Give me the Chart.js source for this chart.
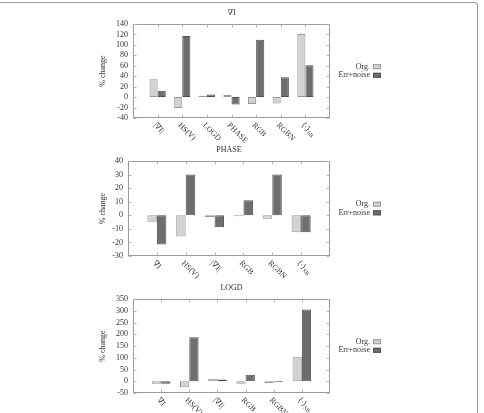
<!DOCTYPE html>
<html>
<head>
<meta charset="utf-8">
<script src="https://cdn.jsdelivr.net/npm/chart.js@4.4.1/dist/chart.umd.min.js"></script>
<style>
  html, body { margin: 0; padding: 0; background: #fff; }
  #wrap { position: relative; width: 484px; height: 413px; overflow: hidden; }
  #frame { position: absolute; left: -4px; top: 2px; width: 482px; height: 440px; box-sizing: border-box;
           border-top: 1px solid #9a9a9a; border-right: 1px solid #9a9a9a; border-top-right-radius: 4px; }
  .box { position: absolute; left: 94px; width: 300px; height: 150px; }
</style>
</head>
<body>
<div id="wrap">
  <div id="frame"></div>
  <div class="box" style="top:0"><canvas id="c-grad"></canvas></div>
  <div class="box" style="top:138px"><canvas id="c-phase"></canvas></div>
  <div class="box" style="top:276px"><canvas id="c-logd"></canvas></div>
</div>
<script>
// --- datos ---
const SERIES = ['Org.', 'Err+noise'];

const gradCats = ['|∇I|', 'HS(V)', 'LOGD', 'PHASE', 'RGB', 'RGBN', '⟨·⟩_SB'];
const gradOrg  = [34, -21, 2, 4, -13, -12, 121];
const gradErr  = [12, 117, 5, -14, 110, 38, 61];
const gradY    = [-40, 140, 20];   // min, max, paso

const phaseCats = ['∇I', 'HS(V)', '|∇I|', 'RGB', 'RGBN', '⟨·⟩_SB'];
const phaseOrg  = [-4.7, -15.7, -1.5, -0.7, -2.5, -12.5];
const phaseErr  = [-21.5, 30, -8.9, 11, 30, -12.5];
const phaseY    = [-30, 40, 10];

const logdCats = ['∇I', 'HS(V)', '|∇I|', 'RGB', 'RGBN', '⟨·⟩_SB'];
const logdOrg  = [-11, -26, 11, -11, -7, 104];
const logdErr  = [-11, 187, 7, 28, -4, 305];
const logdY    = [-50, 350, 50];

const FONT = '"Liberation Serif", "DejaVu Serif", serif';
const INK = '#333';
const COLORS = [
  { fill: '#d2d2d2', line: '#999999' },
  { fill: '#6e6e6e', line: '#505050' }
];

Chart.defaults.font.family = FONT;
Chart.defaults.font.size = 8;
Chart.defaults.color = INK;

// marco, marcas interiores, título, etiquetas rotadas y leyenda
const decor = {
  id: 'decor',
  afterDatasetsDraw(chart, args, opts) {
    const { ctx, chartArea: a, scales: { x, y } } = chart;
    const l = Math.round(a.left) + 0.5, r = Math.round(a.right) - 0.5;
    const t = Math.round(a.top) + 0.5,  b = Math.round(a.bottom) - 0.5;
    ctx.save();
    ctx.strokeStyle = '#9a9a9a';
    ctx.lineWidth = 1;
    ctx.strokeRect(l, t, r - l, b - t);

    ctx.strokeStyle = '#b5b5b5';
    ctx.beginPath();
    y.ticks.forEach(tk => {
      const py = Math.round(y.getPixelForValue(tk.value)) + 0.5;
      ctx.moveTo(l, py); ctx.lineTo(l + 3, py);
      ctx.moveTo(r, py); ctx.lineTo(r - 3, py);
    });
    opts.cats.forEach((c, i) => {
      const px = Math.round(x.getPixelForValue(i)) + 0.5;
      ctx.moveTo(px, b); ctx.lineTo(px, b - 3);
      ctx.moveTo(px, t); ctx.lineTo(px, t + 3);
    });
    ctx.stroke();

    ctx.fillStyle = INK;
    ctx.font = '8px ' + FONT;
    ctx.textAlign = 'center';
    ctx.textBaseline = 'middle';
    ctx.fillText(opts.title, (a.left + a.right) / 2, a.top - 11);

    // etiquetas del eje x, giradas 45° hacia abajo a la derecha
    opts.cats.forEach((c, i) => {
      const [main, sub] = c.split('_');
      const px = x.getPixelForValue(i);
      ctx.save();
      ctx.translate(px - 3, a.bottom + 6);
      ctx.rotate(Math.PI / 4);
      ctx.textAlign = 'left';
      ctx.font = '8px ' + FONT;
      ctx.fillText(main, 0, 0);
      if (sub) {
        const w = ctx.measureText(main).width;
        ctx.font = '5.5px ' + FONT;
        ctx.fillText(sub, w + 0.5, 2);
      }
      ctx.restore();
    });

    // leyenda
    const mid = (a.top + a.bottom) / 2;
    ctx.textAlign = 'right';
    ctx.font = '8px ' + FONT;
    chart.data.datasets.forEach((ds, i) => {
      const yy = mid + (i - 0.5) * 8.6;
      ctx.fillStyle = INK;
      ctx.fillText(ds.label, a.right + 40, yy);
      ctx.fillStyle = ds.backgroundColor;
      ctx.fillRect(a.right + 43, yy - 2.5, 8, 5);
      ctx.strokeStyle = ds.borderColor;
      ctx.strokeRect(a.right + 43.5, yy - 2, 7, 4);
    });
    ctx.restore();
  }
};

function makeChart(id, title, cats, org, err, yr, yWidth, padTop, padBottom) {
  const datasets = [org, err].map((vals, k) => ({
    label: SERIES[k],
    data: vals.map((v, i) => ({ x: i, y: v })),
    backgroundColor: COLORS[k].fill,
    borderColor: COLORS[k].line,
    borderWidth: 1,
    borderSkipped: false,
    barPercentage: 1,
    categoryPercentage: 0.66
  }));

  return new Chart(document.getElementById(id), {
    type: 'bar',
    data: { datasets },
    plugins: [decor],
    options: {
      responsive: true, maintainAspectRatio: false,
      animation: false,
      layout: { padding: { top: padTop, bottom: padBottom, right: 64, left: 0 } },
      plugins: {
        legend: { display: false },
        tooltip: { enabled: false },
        decor: { title, cats }
      },
      scales: {
        x: {
          type: 'linear', display: false, offset: false,
          min: -1, max: cats.length,
          afterFit: s => { s.height = 0; }
        },
        y: {
          min: yr[0], max: yr[1],
          grid: { display: false, drawTicks: false },
          border: { display: false },
          ticks: { stepSize: yr[2], autoSkip: false, padding: 5, font: { size: 8 }, color: INK },
          title: { display: true, text: '% change', font: { size: 8 }, color: INK, padding: { top: 4, bottom: 4 } },
          afterFit: s => { s.width = yWidth; }
        }
      }
    }
  });
}

makeChart('c-grad',  '∇I',    gradCats,  gradOrg,  gradErr,  gradY,  39, 24, 32);
makeChart('c-phase', 'PHASE', phaseCats, phaseOrg, phaseErr, phaseY, 34, 23, 32);
makeChart('c-logd',  'LOGD',  logdCats,  logdOrg,  logdErr,  logdY,  39, 23, 33);
</script>
</body>
</html>
